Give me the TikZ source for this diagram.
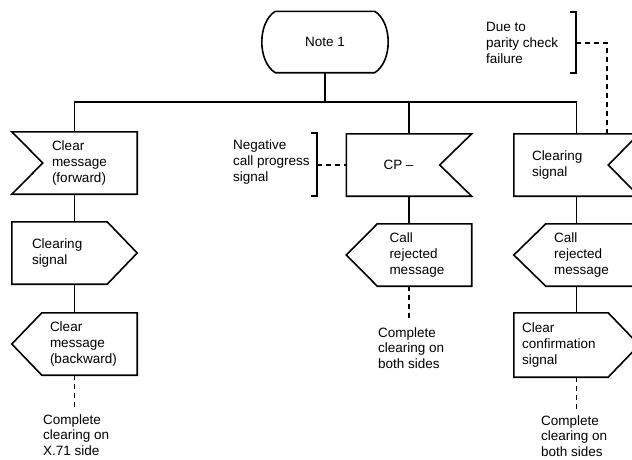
\documentclass[tikz,border=0pt]{standalone}
\usepackage{fontspec}
\setmainfont{Liberation Sans}
\usetikzlibrary{calc}
\tikzset{
  box/.style={rectangle, minimum width=125pt, minimum height=62pt, inner sep=0pt, draw=none},
  lbl/.style={anchor=west, align=left, inner sep=0pt, font=\fontsize{13.5}{15.8}\selectfont},
  ln/.style={line width=1.6pt, line join=miter},
  dsh/.style={line width=1.6pt, dash pattern=on 5pt off 4pt},
}
\begin{document}
\begin{tikzpicture}[x=1pt,y=-1pt]
\clip (0,0) rectangle (632,459);
\fill[white] (0,0) rectangle (632,459);
% terminal
\node[box, minimum height=61pt, font=\fontsize{13.5}{15.8}\selectfont] (note) at (325,42) {Note 1};
\draw[ln] ($(note.north west)+(13,0)$) -- ($(note.north east)+(-13,0)$)
  .. controls ($(note.north east)+(5,11)$) and ($(note.south east)+(5,-11)$) .. ($(note.south east)+(-13,0)$)
  -- ($(note.south west)+(13,0)$)
  .. controls ($(note.south west)+(-5,-11)$) and ($(note.north west)+(-5,11)$) .. cycle;
% left column
\node[box] (L1) at (74.5,163) {};
\draw[ln] (L1.north west) -- (L1.north east) -- (L1.south east) -- (L1.south west) -- ($(L1.west)+(31,0)$) -- cycle;
\node[lbl] (t1) at ($(L1.west)+(40,0)$) {Clear\\message\\(forward)};
\node[box] (L2) at (74.5,253) {};
\draw[ln] (L2.north west) -- ($(L2.north east)+(-30,0)$) -- (L2.east) -- ($(L2.south east)+(-30,0)$) -- (L2.south west) -- cycle;
\node[lbl] (t2) at ($(L2.west)+(20,0)$) {Clearing\\signal};
\node[box] (L3) at (74.5,344) {};
\draw[ln] ($(L3.north west)+(30,0)$) -- (L3.north east) -- (L3.south east) -- ($(L3.south west)+(30,0)$) -- (L3.west) -- cycle;
\node[lbl] (t3) at ($(L3.west)+(38,0)$) {Clear\\message\\(backward)};
% middle column
\node[box] (M1) at (409,165) {};
\draw[ln] (M1.north west) -- (M1.north east) -- ($(M1.east)+(-32,0)$) -- (M1.south east) -- (M1.south west) -- cycle;
\node[lbl] (t4) at ($(M1.west)+(37,0)$) {CP –};
\node[box] (M2) at (409,255) {};
\draw[ln] ($(M2.north west)+(31,0)$) -- (M2.north east) -- (M2.south east) -- ($(M2.south west)+(31,0)$) -- (M2.west) -- cycle;
\node[lbl] (t5) at ($(M2.west)+(43,0)$) {Call\\rejected\\message};
% right column
\node[box] (R1) at (576.5,165) {};
\draw[ln] (R1.north west) -- (R1.north east) -- ($(R1.east)+(-31,0)$) -- (R1.south east) -- (R1.south west) -- cycle;
\node[lbl] (t6) at ($(R1.west)+(18,0)$) {Clearing\\signal};
\node[box] (R2) at (576.5,255) {};
\draw[ln] ($(R2.north west)+(32,0)$) -- (R2.north east) -- (R2.south east) -- ($(R2.south west)+(32,0)$) -- (R2.west) -- cycle;
\node[lbl] (t7) at ($(R2.west)+(40,0)$) {Call\\rejected\\message};
\node[box, minimum height=64pt] (R3) at (576.5,345) {};
\draw[ln] (R3.north west) -- ($(R3.north east)+(-31,0)$) -- (R3.east) -- ($(R3.south east)+(-31,0)$) -- (R3.south west) -- cycle;
\node[lbl] (t8) at ($(R3.west)+(8,0)$) {Clear\\confirmation\\signal};
% bus and stems
\coordinate (bus) at (0,102);
\draw[ln] (note.south) -- (note.south |- bus);
\draw[ln] (L1.north) |- (R1.north |- bus) -- (R1.north);
\draw[ln] (M1.north) -- (M1.north |- bus);
\draw[ln] (L1.south) -- (L2.north);
\draw[ln] (L2.south) -- (L3.north);
\draw[ln] (M1.south) -- (M2.north);
\draw[ln] (R1.south) -- (R2.north);
\draw[ln] (R2.south) -- (R3.north);
% dashed ends
\coordinate (e1) at ($(L3.south)+(0,32)$);
\coordinate (e2) at ($(M2.south)+(0,34)$);
\coordinate (e3) at ($(R3.south)+(0,35)$);
\draw[dsh] (L3.south) -- (e1);
\draw[dsh] (M2.south) -- (e2);
\draw[dsh] (R3.south) -- (e3);
\node[lbl] (c1) at (43,435) {Complete\\clearing on\\X.71 side};
\node[lbl] (c2) at (378,348) {Complete\\clearing on\\both sides};
\node[lbl] (c3) at (541,436) {Complete\\clearing on\\both sides};
% negative call progress bracket
\node[lbl] (neg) at (233,162) {Negative\\call progress\\signal};
\draw[ln] (311,133) -- (317,133) -- (317,196) -- (311,196);
\coordinate (nb) at (317,165);
\draw[dsh] (nb) -- (M1.west);
% parity bracket
\node[lbl] (due) at (486,43) {Due to\\parity check\\failure};
\draw[ln] (570,12) -- (576,12) -- (576,73) -- (570,73);
\coordinate (db) at (576,43);
\coordinate (R1t) at ($(R1.north)+(30.5,0)$);
\draw[dsh] (db) -| (R1t);
\end{tikzpicture}
\end{document}
